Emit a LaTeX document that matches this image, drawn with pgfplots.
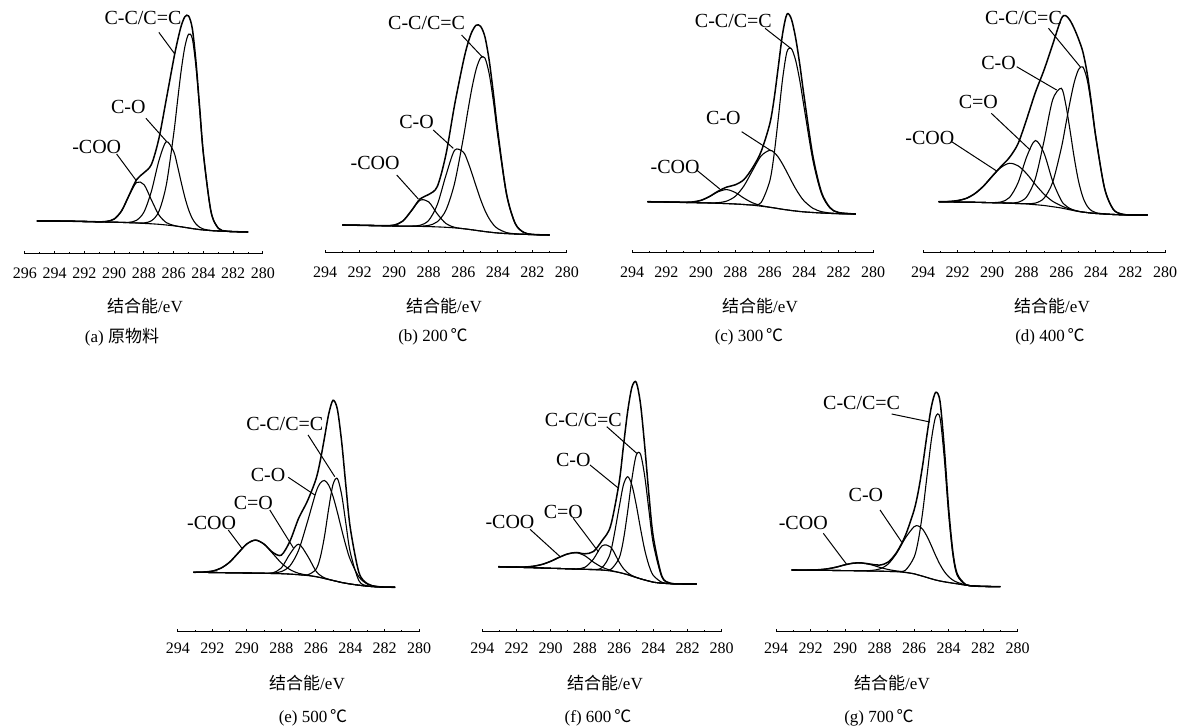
\documentclass[border=0pt]{standalone}
\usepackage{fontspec}
\setmainfont{Liberation Serif}
\newfontfamily\cjk{Noto Sans CJK SC}
\usepackage{pgfplots}
\usepackage{pgfplotstable}
\pgfplotsset{compat=1.18}

% heights are in px above the axis line, E in eV
\pgfplotstableread{
E bg coo co cc env
295.2 33 33 33 33 33
294 33 33 33 33 33
293 32.8 32.8 32.8 32.8 32.8
292 32.5 32.5 32.5 32.5 32.5
291 32.2 32.2 32.2 32.2 32.2
290.5 32 32.6 32 32 32.6
290 31.8 35 31.8 31.8 35
289.5 31.6 43.3 31.6 31.6 43.3
289 31.3 58.5 31.7 31.3 58.9
288.5 31 71.5 33.7 31.1 74.3
288 30.6 69.4 42 31.1 81.3
287.5 30.2 54 62.8 33.2 89.6
287 29.7 39.1 93.1 42.5 115.3
286.5 29 31.4 112.3 69.1 154.8
286 28.2 28.6 102.3 120.6 195.1
285.75 27.7 27.7 88.1 152.5 212.9
285.5 27.2 27.2 71.8 183.4 228
285.25 26.6 26.6 56.5 207.4 237.3
285 26 26 44.2 219.8 238
284.75 25.4 25.4 35.4 215.3 225.3
284.5 24.9 24.9 29.9 186.2 191.2
284.25 24.4 24.4 26.7 142.7 145
284 24 24 24.9 98.7 99.6
283.5 23.4 23.4 23.5 42.6 42.7
283 23 23 23 25.7 25.7
282.5 22.7 22.7 22.7 22.9 22.9
282 22.4 22.4 22.4 22.4 22.4
281 22 22 22 22 22
}\tabA

\pgfplotstableread{
E bg coo co cc env
293 28 28 28 28 28
292 27.7 27.7 27.7 27.7 27.7
291 27.4 27.4 27.4 27.4 27.4
290.5 27.2 27.3 27.2 27.2 27.3
290 27 27.9 27 27 27.9
289.5 26.9 31.9 26.9 26.9 31.9
289 26.8 42.2 26.9 26.8 42.3
288.5 26.6 52.8 27.7 26.8 54.1
288 26.4 51.1 32.6 27.6 58.5
287.5 26.1 39 48.5 31.3 66.6
287 25.7 29.4 77.8 43 98.8
286.5 25.1 25.7 102.8 70 148.3
286 24.3 24.3 100.9 114.7 191.3
285.75 23.8 23.8 91.9 140.6 208.7
285.5 23.2 23.2 79.6 164.9 221.3
285.25 22.6 22.6 66.3 184.1 227.8
285 22 22 53.6 195.1 226.7
284.75 21.4 21.4 42.7 195 216.3
284.5 20.9 20.9 34.3 179.1 192.5
284.25 20.4 20.4 28.2 150.6 158.4
284 20 20 24.3 116.6 120.9
283.5 19.4 19.4 20.4 58.5 59.5
283 19 19 19.2 29.5 29.7
282.5 18.7 18.7 18.7 20.6 20.6
282 18.4 18.4 18.4 18.6 18.6
281 18 18 18 18 18
}\tabB

\pgfplotstableread{
E bg coo co cc env
293.1 51.3 51.3 51.3 51.3 51.3
292 51 51 51 51 51
291 50.6 50.7 50.6 50.6 50.7
290.5 50.4 51 50.4 50.4 51
290 50.2 52.6 50.2 50.2 52.6
289.5 50 56.4 50.1 50 56.5
289 49.7 61.2 50.3 49.7 61.8
288.5 49.4 63.4 51.9 49.4 65.9
288 49 60.5 56.7 49 68.2
287.5 48.5 54.9 67 48.5 73.4
287 47.8 50.2 82.4 48.1 85.1
286.5 46.8 47.4 97.1 50.5 101.4
286 45.7 45.8 102.7 71.8 128.9
285.75 45.1 45.1 100.6 98 153.5
285.5 44.4 44.4 95.8 135 186.4
285.25 43.7 43.7 88.8 174.3 219.4
285 43.1 43.1 80.8 201.1 238.8
284.75 42.5 42.5 72.4 204.5 234.4
284.5 42 42 64.5 193.1 215.6
284.25 41.5 41.5 57.6 172.1 188.2
284 41.1 41.1 52 145.4 156.3
283.5 40.5 40.5 44.8 93.4 97.7
283 40 40 41.4 59.7 61.1
282.5 39.6 39.6 40 45 45.4
282 39.3 39.3 39.4 40.4 40.5
281 39 39 39 39 39
}\tabC

\pgfplotstableread{
E bg coo cdo co cc env
293.1 51.3 51.4 51.3 51.3 51.3 51.4
292.5 51.1 51.5 51.1 51.1 51.1 51.5
292 51 52.4 51 51 51 52.4
291.5 50.8 54.6 50.8 50.8 50.8 54.6
291 50.7 59.4 50.7 50.7 50.7 59.4
290.5 50.5 66.9 50.5 50.5 50.5 66.9
290 50.3 76.6 50.4 50.3 50.3 76.7
289.5 50.1 85.4 51 50.1 50.1 86.3
289 49.8 89.7 55.4 50 49.8 95.5
288.5 49.4 87.2 70.3 50.7 49.4 109.4
288 49 79.2 96.3 56.2 49.3 134
287.5 48.3 68.5 112.5 74.5 49.9 160.5
287 47.5 58.9 99.9 111.8 54.8 182.9
286.5 46.3 51.7 71.9 153.1 70.7 208.5
286 45 47.2 52.5 164.7 104.8 234.2
285.75 44.1 45.4 47.5 149.3 127.5 237.4
285.5 43.2 43.9 44.5 123.3 150.7 232.8
285.25 42.3 42.7 42.8 95.1 170.7 224.4
285 41.5 41.7 41.6 71.6 183.5 213.9
284.75 40.9 41 40.9 55.8 186 201
284.5 40.4 40.4 40.4 46.8 173.1 179.5
284.25 39.9 39.9 39.9 42.3 146.7 149.1
284 39.5 39.5 39.5 40.3 115.2 116
283.5 39 39 39 39.1 64.9 65
283 38.5 38.5 38.5 38.5 43.8 43.8
282.5 38.2 38.2 38.2 38.2 38.9 38.9
282 38 38 38 38 38.1 38.1
281 38 38 38 38 38 38
}\tabD

\pgfplotstableread{
E bg coo cdo co cc env
293.1 59.7 59.7 59.7 59.7 59.7 59.7
292.5 59.6 60 59.6 59.6 59.6 60
292 59.5 60.9 59.5 59.5 59.5 60.9
291.5 59.4 63.9 59.4 59.4 59.4 63.9
291 59.2 69.9 59.2 59.2 59.2 69.9
290.5 59.1 79.1 59.1 59.1 59.1 79.1
290 59 88.1 59 59 59 88.1
289.5 58.9 91.9 58.9 58.9 58.9 91.9
289 58.7 87.8 58.7 58.7 58.7 87.8
288.5 58.5 78.5 59.2 58.9 58.5 79.6
288 58.3 69 64.1 60.4 58.3 76.9
287.5 57.9 62.4 78.1 66.2 57.9 90.9
287 57.3 58.7 87.8 81.7 57.3 113.6
286.5 56.5 56.9 76.7 109.4 57 130.5
286 55.3 55.4 61.1 139.3 62.5 152.4
285.75 54.5 54.5 56.8 148.8 74 170.6
285.5 53.5 53.5 54.2 151.5 95.3 194
285.25 52.5 52.5 52.7 146.8 123.7 218.2
285 51.5 51.5 51.5 135.5 147.7 231.7
284.75 50.5 50.5 50.5 119.8 153.5 222.8
284.5 49.5 49.5 49.5 102.4 137.2 190.1
284.25 48.7 48.7 48.7 86 107.9 145.2
284 48 48 48 72.4 79.7 104.1
283.5 46.8 46.8 46.8 55.1 51.3 59.6
283 45.8 45.8 45.8 47.9 46.1 48.2
282.5 45.2 45.2 45.2 45.6 45.2 45.6
282 44.9 44.9 44.9 44.9 44.9 44.9
281.4 44.7 44.7 44.7 44.7 44.7 44.7
}\tabE

\pgfplotstableread{
E bg coo cdo co cc env
293.06 65.3 65.3 65.3 65.3 65.3 65.3
292.5 65 65 65 65 65 65
292 64.8 65 64.8 64.8 64.8 65
291.5 64.5 65 64.5 64.5 64.5 65
291 64.3 65.8 64.3 64.3 64.3 65.8
290.5 64 67.6 64 64 64 67.6
290 63.7 70.7 63.7 63.7 63.7 70.7
289.5 63.5 74.7 63.5 63.5 63.5 74.7
289 63.2 78.1 63.2 63.2 63.2 78.1
288.5 62.9 79.3 63.1 62.9 62.9 79.5
288 62.7 76.2 64.7 62.7 62.7 78.2
287.5 62.4 69.9 72.9 62.5 62.4 80.5
287 62 64.8 86.1 64.4 62 91.3
286.5 61 61.7 85.1 79.7 62.4 105.9
286 59.5 59.6 70 124.4 73.8 149.3
285.75 58.5 58.5 63.6 146.9 91.8 185.3
285.5 57.3 57.3 59.3 155.3 120.4 220.4
285.25 55.9 55.9 56.5 146.9 153.2 244.8
285 54.5 54.5 54.7 127.4 176.7 249.8
284.75 53.2 53.2 53.2 103.6 177.9 228.3
284.5 52 52 52 82 155.6 185.6
284.25 50.9 50.9 50.9 66.3 120.8 136.2
284 49.8 49.8 49.8 56.6 88.2 95
283.5 48.8 48.8 48.8 49.7 55 55.9
283 48.3 48.3 48.3 48.4 48.7 48.8
282.5 48.1 48.1 48.1 48.1 48.1 48.1
282 48 48 48 48 48 48
281.46 48 48 48 48 48 48
}\tabF

\pgfplotstableread{
E bg coo co cc env
293.09 62 62 62 62 62
292.5 61.9 61.9 61.9 61.9 61.9
292 61.8 62 61.8 61.8 62
291.5 61.7 62.3 61.7 61.7 62.3
291 61.6 63.2 61.6 61.6 63.2
290.5 61.5 64.9 61.5 61.5 64.9
290 61.4 67.2 61.4 61.4 67.2
289.5 61.3 68.9 61.3 61.3 68.9
289 61.1 68.9 61.2 61.1 69
288.5 61 67.3 61.5 61 67.8
288 60.8 64.7 63 60.8 66.9
287.5 60.6 62.5 68 60.6 69.9
287 60.3 61 79 60.5 79.9
286.5 59.5 59.7 94.1 61.8 96.6
286 58.2 58.2 105.3 74.7 121.8
285.75 57 57 106 92 141
285.5 55.8 55.8 102.7 120 166.9
285.25 54.5 54.5 95.7 156.1 197.3
285 53.2 53.2 86.4 191.7 224.9
284.75 52 52 76.5 215.1 239.6
284.5 51 51 67.6 214.5 231.1
284.25 50.2 50.2 60.5 174 184.3
284 49.5 49.5 55.4 118.3 124.2
283.75 48.8 48.8 51.9 76.9 80
283.5 48.2 48.2 49.7 56.6 58.1
283 46.8 46.8 47.1 47.1 47.4
282.5 46 46 46 46 46
282 45.6 45.6 45.6 45.6 45.6
281 45.3 45.3 45.3 45.3 45.3
}\tabG

\pgfplotsset{
  panel/.style={
    scale only axis, anchor=south west, clip=false,
    axis x line*=bottom, axis y line=none,
    x axis line style={-, line width=0.5pt},
    x dir=reverse, ymin=0, xmin=280, xmax=294,
    xtick={280,282,...,294}, minor x tick num=1,
    tick align=inside, major tick length=1.6pt, minor tick length=0.8pt,
    tick style={black, line width=0.5pt},
    /pgf/number format/assume math mode=true,
    xticklabel style={font=\fontsize{8}{9}\selectfont, yshift=-3.2pt},
    ytick=\empty,
  },
  toprow/.style={panel, ymax=253, height=126.5pt},
  botrow/.style={panel, ymax=262, height=131pt,
    xticklabel style={yshift=1.5pt}},
  curve/.style={black, line width=0.55pt, smooth, mark=none},
  envl/.style={black, line width=0.75pt, smooth, mark=none},
}
\tikzset{
  anno/.style={font=\fontsize{10}{12}\selectfont, inner sep=0pt},
  lead/.style={black, line width=0.5pt},
  lab/.style={font=\fontsize{8.5}{10}\selectfont, inner sep=0pt},
}

\begin{document}
\begin{tikzpicture}
\path[use as bounding box] (0pt,0pt) rectangle (594.5pt,364pt);

% (a)
\begin{axis}[panel, at={(12.5pt,237pt)}, width=119pt, ymax=254, height=127pt,
  xmax=296, xtick={280,282,...,296}]
\addplot[curve] table[x=E,y=bg]{\tabA};
\addplot[curve] table[x=E,y=coo]{\tabA};
\addplot[curve] table[x=E,y=co]{\tabA};
\addplot[curve] table[x=E,y=cc]{\tabA};
\addplot[envl] table[x=E,y=env]{\tabA};
\node[anno] at (axis cs:288.07,236) {C-C/C=C};
\draw[lead] (axis cs:287.0,221.6) -- (axis cs:285.93,200);
\node[anno] at (axis cs:289.05,147) {C-O};
\draw[lead] (axis cs:287.87,135.7) -- (axis cs:286.47,112.3);
\node[anno] at (axis cs:291.18,107) {-COO};
\draw[lead] (axis cs:289.84,100) -- (axis cs:288.5,73);
\end{axis}

% (b)
\begin{axis}[toprow, at={(162.5pt,237.5pt)}, width=121pt]
\addplot[curve] table[x=E,y=bg]{\tabB};
\addplot[curve] table[x=E,y=coo]{\tabB};
\addplot[curve] table[x=E,y=co]{\tabB};
\addplot[curve] table[x=E,y=cc]{\tabB};
\addplot[envl] table[x=E,y=env]{\tabB};
\node[anno] at (axis cs:288.12,229.7) {C-C/C=C};
\draw[lead] (axis cs:286.1,218) -- (axis cs:284.88,195.7);
\node[anno] at (axis cs:288.7,131.3) {C-O};
\draw[lead] (axis cs:287.74,123) -- (axis cs:286.58,104.7);
\node[anno] at (axis cs:291.1,90.3) {-COO};
\draw[lead] (axis cs:289.85,78) -- (axis cs:288.6,54);
\end{axis}

% (c)
\begin{axis}[toprow, at={(316pt,237.5pt)}, width=120.5pt]
\addplot[curve] table[x=E,y=bg]{\tabC};
\addplot[curve] table[x=E,y=coo]{\tabC};
\addplot[curve] table[x=E,y=co]{\tabC};
\addplot[curve] table[x=E,y=cc]{\tabC};
\addplot[envl] table[x=E,y=env]{\tabC};
\node[anno] at (axis cs:288.11,232.3) {C-C/C=C};
\draw[lead] (axis cs:286.27,224.7) -- (axis cs:284.78,204.7);
\node[anno] at (axis cs:288.69,134.7) {C-O};
\draw[lead] (axis cs:287.63,121.3) -- (axis cs:285.9,102);
\node[anno] at (axis cs:291.5,86.3) {-COO};
\draw[lead] (axis cs:290.25,83) -- (axis cs:288.9,64);
\end{axis}

% (d)
\begin{axis}[toprow, at={(461.5pt,237.5pt)}, width=121pt]
\addplot[curve] table[x=E,y=bg]{\tabD};
\addplot[curve] table[x=E,y=coo]{\tabD};
\addplot[curve] table[x=E,y=cdo]{\tabD};
\addplot[curve] table[x=E,y=co]{\tabD};
\addplot[curve] table[x=E,y=cc]{\tabD};
\addplot[envl] table[x=E,y=env]{\tabD};
\node[anno] at (axis cs:288.19,234.7) {C-C/C=C};
\draw[lead] (axis cs:286.74,224.7) -- (axis cs:284.91,186.3);
\node[anno] at (axis cs:289.63,189.7) {C-O};
\draw[lead] (axis cs:288.58,186.3) -- (axis cs:286.27,163);
\node[anno] at (axis cs:290.8,151.3) {C=O};
\draw[lead] (axis cs:290.05,139.7) -- (axis cs:287.8,103);
\node[anno] at (axis cs:293.6,114.7) {-COO};
\draw[lead] (axis cs:292.34,111.3) -- (axis cs:289.74,82);
\end{axis}

% (e)
\begin{axis}[botrow, at={(89pt,48pt)}, width=120.6pt]
\addplot[curve] table[x=E,y=bg]{\tabE};
\addplot[curve] table[x=E,y=coo]{\tabE};
\addplot[curve] table[x=E,y=cdo]{\tabE};
\addplot[curve] table[x=E,y=co]{\tabE};
\addplot[curve] table[x=E,y=cc]{\tabE};
\addplot[envl] table[x=E,y=env]{\tabE};
\node[anno] at (axis cs:287.8,208) {C-C/C=C};
\draw[lead] (axis cs:286.45,197) -- (axis cs:284.9,155.3);
\node[anno] at (axis cs:288.77,157) {C-O};
\draw[lead] (axis cs:287.6,154.7) -- (axis cs:286.06,137);
\node[anno] at (axis cs:289.63,128.7) {C=O};
\draw[lead] (axis cs:288.67,122) -- (axis cs:287.3,84);
\node[anno] at (axis cs:292.05,108.7) {-COO};
\draw[lead] (axis cs:291.08,102) -- (axis cs:290.3,84);
\end{axis}

% (f)
\begin{axis}[botrow, at={(241.15pt,48pt)}, width=119.7pt]
\addplot[curve] table[x=E,y=bg]{\tabF};
\addplot[curve] table[x=E,y=coo]{\tabF};
\addplot[curve] table[x=E,y=cdo]{\tabF};
\addplot[curve] table[x=E,y=co]{\tabF};
\addplot[curve] table[x=E,y=cc]{\tabF};
\addplot[envl] table[x=E,y=env]{\tabF};
\node[anno] at (axis cs:288.09,212) {C-C/C=C};
\draw[lead] (axis cs:286.72,205.3) -- (axis cs:284.97,178.7);
\node[anno] at (axis cs:288.68,172) {C-O};
\draw[lead] (axis cs:287.7,167) -- (axis cs:286.05,144);
\node[anno] at (axis cs:289.26,120.3) {C=O};
\draw[lead] (axis cs:288.68,113.7) -- (axis cs:287.2,80);
\node[anno] at (axis cs:292.38,110.3) {-COO};
\draw[lead] (axis cs:291.21,102.7) -- (axis cs:289.46,75.5);
\end{axis}

% (g)
\begin{axis}[botrow, at={(388pt,48pt)}, width=120.8pt]
\addplot[curve] table[x=E,y=bg]{\tabG};
\addplot[curve] table[x=E,y=coo]{\tabG};
\addplot[curve] table[x=E,y=co]{\tabG};
\addplot[curve] table[x=E,y=cc]{\tabG};
\addplot[envl] table[x=E,y=env]{\tabG};
\node[anno] at (axis cs:289.04,228.7) {C-C/C=C};
\draw[lead] (axis cs:287.3,218) -- (axis cs:285.08,210);
\node[anno] at (axis cs:288.79,137) {C-O};
\draw[lead] (axis cs:287.97,122) -- (axis cs:286.72,90);
\node[anno] at (axis cs:292.42,108.7) {-COO};
\draw[lead] (axis cs:291.26,98.7) -- (axis cs:289.9,67.5);
\end{axis}

% axis titles and captions
\begin{scope}[x=0.5pt,y=0.5pt]
\node[lab] at (145,422) {{\cjk 结合能}/eV};
\node[lab] at (444,422) {{\cjk 结合能}/eV};
\node[lab] at (760,422) {{\cjk 结合能}/eV};
\node[lab] at (1052,422) {{\cjk 结合能}/eV};
\node[lab] at (122,391) {(a)\ {\cjk 原物料}};
\node[lab] at (433,391) {(b)\ 200\,{\cjk ℃}};
\node[lab] at (749,391) {(c)\ 300\,{\cjk ℃}};
\node[lab] at (1050,391) {(d)\ 400\,{\cjk ℃}};
\node[lab] at (307,45) {{\cjk 结合能}/eV};
\node[lab] at (605,45) {{\cjk 结合能}/eV};
\node[lab] at (892,45) {{\cjk 结合能}/eV};
\node[lab] at (313,10) {(e)\ 500\,{\cjk ℃}};
\node[lab] at (598,10) {(f)\ 600\,{\cjk ℃}};
\node[lab] at (879,10) {(g)\ 700\,{\cjk ℃}};
\end{scope}
\end{tikzpicture}
\end{document}
